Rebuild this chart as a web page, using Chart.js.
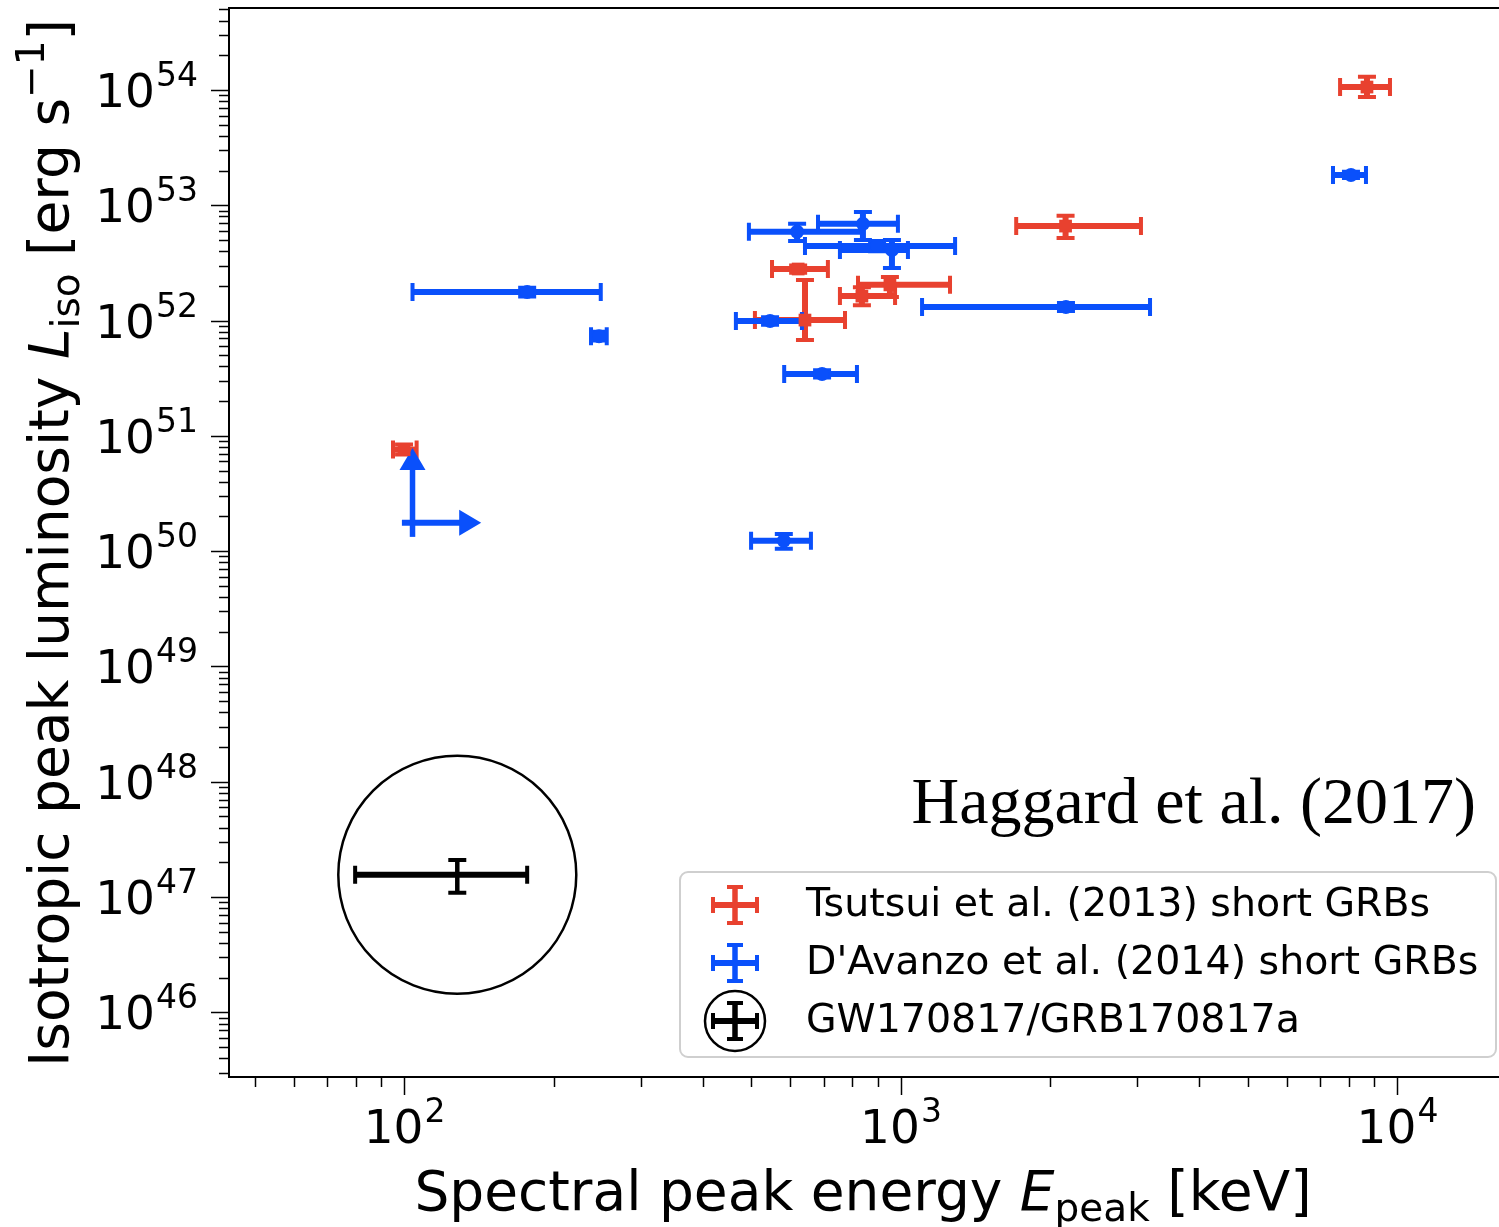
<!DOCTYPE html>
<html>
<head>
<meta charset="utf-8">
<script src="https://cdn.jsdelivr.net/npm/chart.js@4.4.1/dist/chart.umd.min.js"></script>
<style>
  html, body { margin: 0; padding: 0; background: #fff; }
  #wrap { width: 1499px; height: 1227px; position: relative; }
</style>
</head>
<body>
<div id="wrap"><canvas id="chart"></canvas></div>
<script>
// Tsutsui et al. (2013) short GRBs
const tsutsuiE   = [8700, 2150, 622, 642, 836, 952, 100];
const tsutsuiELo = [7680, 1710, 551, 509, 755, 821, 95];
const tsutsuiEHi = [9680, 3050, 714, 773, 975, 1258, 106];
const tsutsuiL   = [1.06e54, 6.6e52, 2.8e52, 1.01e52, 1.63e52, 2.04e52, 7.6e50];
const tsutsuiLLo = [8.7e53, 5.2e52, 2.6e52, 6.8e51, 1.36e52, 1.6e52, 6.9e50];
const tsutsuiLHi = [1.30e54, 8.1e52, 3.0e52, 2.25e52, 1.95e52, 2.39e52, 8.4e50];

// D'Avanzo et al. (2014) short GRBs
const davanzoE   = [177, 247, 582, 695, 546, 619, 840, 897, 961, 2154, 8078];
const davanzoELo = [104, 238, 500, 583, 466, 495, 682, 642, 755, 1105, 7432];
const davanzoEHi = [249, 256, 660, 817, 633, 840, 988, 1288, 1035, 3181, 8660];
const davanzoL   = [1.77e52, 7.3e51, 1.23e50, 3.44e51, 9.9e51, 5.9e52, 6.9e52, 4.44e52, 4.09e52, 1.31e52, 1.83e53];
const davanzoLLo = [1.62e52, 6.7e51, 1.05e50, 3.2e51, 9.2e51, 4.9e52, 5.0e52, 4.0e52, 2.86e52, 1.21e52, 1.72e53];
const davanzoLHi = [1.93e52, 8.0e51, 1.41e50, 3.7e51, 1.07e52, 6.9e52, 8.75e52, 4.9e52, 5.0e52, 1.42e52, 1.95e53];

// D'Avanzo lower limit (arrows)
const limitE   = [104];
const limitELo = [99];
const limitETo = [143];
const limitL   = [1.76e50];
const limitLLo = [1.33e50];
const limitLTo = [7.85e50];

// GW170817 / GRB170817a
const gwE   = [128];
const gwELo = [79.7];
const gwEHi = [177];
const gwL   = [1.56e47];
const gwLLo = [1.09e47];
const gwLHi = [2.1e47];

// ticks
const xTickExps = [2, 3, 4];
const yTickExps = [46, 47, 48, 49, 50, 51, 52, 53, 54];

const legendLabels = ["Tsutsui et al. (2013) short GRBs", "D'Avanzo et al. (2014) short GRBs", "GW170817/GRB170817a"];

const RED = "#e8412f";
const BLUE = "#0a50fb";
const BLACK = "#000";
const FONT = "'DejaVu Sans'";

const pts = (xs, ys) => xs.map((x, i) => ({ x: x, y: ys[i] }));

// error bars
function errBars(chart, xs, ys, xlo, xhi, ylo, yhi, color, vw) {
  const ctx = chart.ctx, sx = chart.scales.x, sy = chart.scales.y;
  ctx.save();
  ctx.strokeStyle = color;
  ctx.lineCap = "butt";
  xs.forEach((v, i) => {
    const px = sx.getPixelForValue(v), py = sy.getPixelForValue(ys[i]);
    const x0 = sx.getPixelForValue(xlo[i]), x1 = sx.getPixelForValue(xhi[i]);
    const y0 = sy.getPixelForValue(ylo[i]), y1 = sy.getPixelForValue(yhi[i]);
    ctx.lineWidth = 6;
    ctx.beginPath(); ctx.moveTo(x0, py); ctx.lineTo(x1, py); ctx.stroke();
    ctx.lineWidth = vw;
    ctx.beginPath(); ctx.moveTo(px, y0); ctx.lineTo(px, y1); ctx.stroke();
    ctx.lineWidth = 4;
    ctx.beginPath();
    ctx.moveTo(x0, py - 9); ctx.lineTo(x0, py + 9);
    ctx.moveTo(x1, py - 9); ctx.lineTo(x1, py + 9);
    ctx.moveTo(px - 9, y0); ctx.lineTo(px + 9, y0);
    ctx.moveTo(px - 9, y1); ctx.lineTo(px + 9, y1);
    ctx.stroke();
  });
  ctx.restore();
}

function arrowHead(ctx, x, y, dir) {
  ctx.beginPath();
  if (dir === "up") {
    ctx.moveTo(x, y); ctx.lineTo(x - 13, y + 22); ctx.lineTo(x + 13, y + 22);
  } else {
    ctx.moveTo(x, y); ctx.lineTo(x - 22, y - 13); ctx.lineTo(x - 22, y + 13);
  }
  ctx.closePath(); ctx.fill();
}

function limits(chart) {
  const ctx = chart.ctx, sx = chart.scales.x, sy = chart.scales.y;
  ctx.save();
  ctx.strokeStyle = BLUE; ctx.fillStyle = BLUE;
  limitE.forEach((v, i) => {
    const px = sx.getPixelForValue(v), py = sy.getPixelForValue(limitL[i]);
    const x0 = sx.getPixelForValue(limitELo[i]), x1 = sx.getPixelForValue(limitETo[i]);
    const y0 = sy.getPixelForValue(limitLLo[i]), y1 = sy.getPixelForValue(limitLTo[i]);
    ctx.lineWidth = 6;
    ctx.beginPath(); ctx.moveTo(x0, py); ctx.lineTo(x1 - 15, py); ctx.stroke();
    ctx.lineWidth = 5.5;
    ctx.beginPath(); ctx.moveTo(px, y0); ctx.lineTo(px, y1 + 15); ctx.stroke();
    arrowHead(ctx, x1, py, "right");
    arrowHead(ctx, px, y1, "up");
  });
  ctx.restore();
}

// "10^n" label
function powLabel(ctx, exp, x, y, align) {
  ctx.save();
  ctx.fillStyle = "#000";
  ctx.textBaseline = "alphabetic";
  ctx.font = "47px " + FONT;
  const wb = ctx.measureText("10").width;
  ctx.font = "33px " + FONT;
  const ws = ctx.measureText(String(exp)).width;
  let left = align === "right" ? x - wb - ws : x - (wb + ws) / 2;
  ctx.textAlign = "left";
  ctx.font = "47px " + FONT;
  ctx.fillText("10", left, y);
  ctx.font = "33px " + FONT;
  ctx.fillText(String(exp), left + wb + 1, y - 21);
  ctx.restore();
}

function legendIcon(ctx, cx, cy, color, ring) {
  ctx.save();
  ctx.strokeStyle = color;
  ctx.lineWidth = 6;
  ctx.beginPath(); ctx.moveTo(cx - 22, cy); ctx.lineTo(cx + 22, cy); ctx.stroke();
  ctx.lineWidth = 5.5;
  ctx.beginPath(); ctx.moveTo(cx, cy - 18); ctx.lineTo(cx, cy + 18); ctx.stroke();
  ctx.lineWidth = 4;
  ctx.beginPath();
  ctx.moveTo(cx - 22, cy - 8); ctx.lineTo(cx - 22, cy + 8);
  ctx.moveTo(cx + 22, cy - 8); ctx.lineTo(cx + 22, cy + 8);
  ctx.moveTo(cx - 8, cy - 18); ctx.lineTo(cx + 8, cy - 18);
  ctx.moveTo(cx - 8, cy + 18); ctx.lineTo(cx + 8, cy + 18);
  ctx.stroke();
  if (ring) {
    ctx.lineWidth = 2.5;
    ctx.strokeStyle = "#000";
    ctx.beginPath(); ctx.arc(cx, cy, 30, 0, Math.PI * 2); ctx.stroke();
  }
  ctx.restore();
}

const decor = {
  id: "decor",
  beforeDatasetsDraw(chart) {
    errBars(chart, tsutsuiE, tsutsuiL, tsutsuiELo, tsutsuiEHi, tsutsuiLLo, tsutsuiLHi, RED, 6);
    errBars(chart, davanzoE, davanzoL, davanzoELo, davanzoEHi, davanzoLLo, davanzoLHi, BLUE, 6);
    limits(chart);
    errBars(chart, gwE, gwL, gwELo, gwEHi, gwLLo, gwLHi, BLACK, 4.5);
  },
  afterDraw(chart) {
    const ctx = chart.ctx, sx = chart.scales.x, sy = chart.scales.y;
    const a = chart.chartArea;
    ctx.save();
    // frame
    ctx.strokeStyle = "#000";
    ctx.lineWidth = 2;
    ctx.beginPath();
    ctx.moveTo(a.right + 2, a.top); ctx.lineTo(a.left, a.top);
    ctx.lineTo(a.left, a.bottom); ctx.lineTo(a.right + 2, a.bottom);
    ctx.stroke();

    // x ticks
    ctx.lineWidth = 1.5;
    for (let e = 1; e <= 4; e++) {
      for (let m = 1; m <= 9; m++) {
        const v = m * Math.pow(10, e);
        if (v < sx.min || v > sx.max) continue;
        const px = Math.round(sx.getPixelForValue(v)) + 0.5;
        const len = m === 1 ? 18 : 10;
        ctx.beginPath(); ctx.moveTo(px, a.bottom); ctx.lineTo(px, a.bottom + len); ctx.stroke();
      }
    }
    xTickExps.forEach(e => powLabel(ctx, e, sx.getPixelForValue(Math.pow(10, e)), a.bottom + 66, "center"));

    // y ticks
    for (let e = 45; e <= 54; e++) {
      for (let m = 1; m <= 9; m++) {
        const v = m * Math.pow(10, e);
        if (v < sy.min || v > sy.max) continue;
        const py = Math.round(sy.getPixelForValue(v)) + 0.5;
        const len = m === 1 ? 18 : 10;
        ctx.beginPath(); ctx.moveTo(a.left, py); ctx.lineTo(a.left - len, py); ctx.stroke();
      }
    }
    yTickExps.forEach(e => powLabel(ctx, e, 197, sy.getPixelForValue(Math.pow(10, e)) + 17, "right"));

    // axis titles
    ctx.fillStyle = "#000";
    ctx.textBaseline = "alphabetic";
    const parts = [["Spectral peak energy ", "55px " + FONT, 0], ["E", "italic 55px " + FONT, 0],
                   ["peak", "39px " + FONT, 11], [" [keV]", "55px " + FONT, 0]];
    let w = 0;
    parts.forEach(p => { ctx.font = p[1]; w += ctx.measureText(p[0]).width; });
    let x = 863 - w / 2;
    parts.forEach(p => { ctx.font = p[1]; ctx.fillText(p[0], x, 1210 + p[2]); x += ctx.measureText(p[0]).width; });

    ctx.save();
    ctx.translate(68, 543);
    ctx.rotate(-Math.PI / 2);
    const yparts = [["Isotropic peak luminosity ", "55px " + FONT, 0], ["L", "italic 55px " + FONT, 0],
                    ["iso", "39px " + FONT, 11], [" [erg s", "55px " + FONT, 0],
                    ["\u22121", "39px " + FONT, -24], ["]", "55px " + FONT, 0]];
    w = 0;
    yparts.forEach(p => { ctx.font = p[1]; w += ctx.measureText(p[0]).width; });
    x = -w / 2;
    yparts.forEach(p => { ctx.font = p[1]; ctx.fillText(p[0], x, p[2]); x += ctx.measureText(p[0]).width; });
    ctx.restore();

    // annotation
    ctx.font = "66px 'Liberation Serif'";
    ctx.textAlign = "right";
    ctx.fillText("Haggard et al. (2017)", 1476, 823);

    // legend
    ctx.textAlign = "left";
    ctx.fillStyle = "rgba(255,255,255,0.85)";
    ctx.strokeStyle = "#cfcfcf";
    ctx.lineWidth = 2;
    ctx.beginPath();
    ctx.roundRect(680, 872, 816, 185, 8);
    ctx.fill(); ctx.stroke();
    const colors = [RED, BLUE, BLACK];
    legendLabels.forEach((t, i) => {
      const cy = 905 + i * 58;
      legendIcon(ctx, 735, cy, colors[i], i === 2);
      ctx.fillStyle = "#000";
      ctx.font = "39.5px " + FONT;
      ctx.textBaseline = "middle";
      ctx.fillText(t, 806, cy + 1);
    });
    ctx.restore();
  }
};

const ctx = document.getElementById("chart").getContext("2d");
new Chart(ctx, {
  type: "scatter",
  data: {
    datasets: [
      { label: legendLabels[0], data: pts(tsutsuiE, tsutsuiL), backgroundColor: RED, borderColor: RED, pointStyle: "rect", pointRadius: 9, borderWidth: 0 },
      { label: legendLabels[1], data: pts(davanzoE, davanzoL), backgroundColor: BLUE, borderColor: BLUE, pointStyle: "circle", pointRadius: 7, borderWidth: 0 },
      { label: legendLabels[2], data: pts(gwE, gwL), backgroundColor: BLACK, borderColor: BLACK, pointRadius: 2, borderWidth: 0 },
      { label: "ring", data: pts(gwE, gwL), backgroundColor: "rgba(0,0,0,0)", borderColor: BLACK, pointRadius: 119, borderWidth: 2.5 }
    ]
  },
  options: {
    responsive: true,
    maintainAspectRatio: false,
    animation: false,
    layout: { autoPadding: false, padding: { left: 229, top: 8, right: 0, bottom: 150 } },
    plugins: { legend: { display: false }, tooltip: { enabled: false } },
    scales: {
      x: { type: "logarithmic", min: 44.4, max: 16050, display: false },
      y: { type: "logarithmic", min: 2.75e45, max: 5.14e54, display: false }
    }
  },
  plugins: [decor]
});
</script>
</body>
</html>
